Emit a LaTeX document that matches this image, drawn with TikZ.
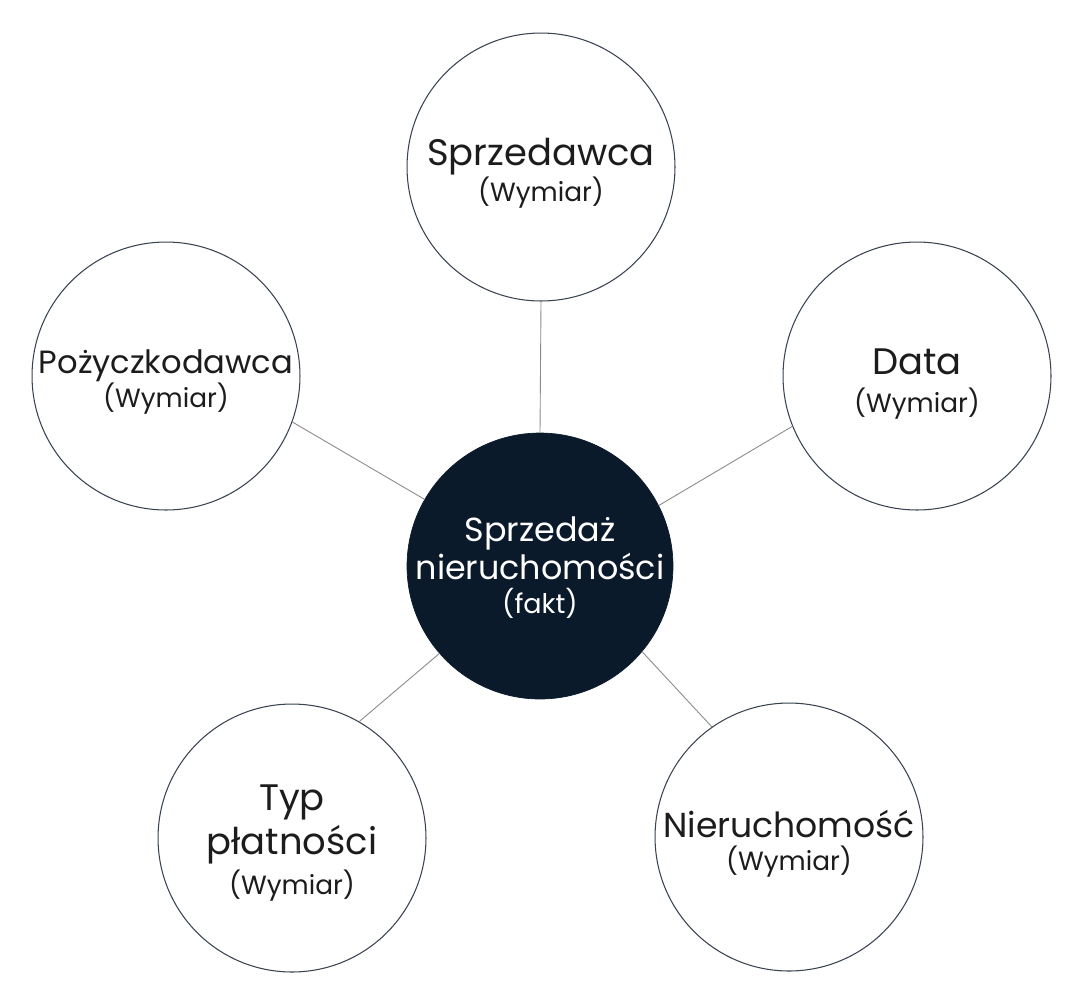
\documentclass[tikz,border=0pt]{standalone}
\usepackage{fontspec}
\setmainfont{Poppins}
\definecolor{navy}{HTML}{0B1A2B}
\definecolor{ink}{HTML}{1C1C1C}
\definecolor{rim}{HTML}{3A4350}
\definecolor{spoke}{HTML}{8A8A8A}
\newcommand\dimsub{\fontsize{15}{18}\selectfont}
\tikzset{
  dim/.style={circle, draw=rim, line width=0.6pt, fill=white, minimum size=5.36cm, inner sep=0pt},
  fact/.style={circle, draw=navy, fill=navy, minimum size=5.32cm, inner sep=0pt},
  dimtext/.style={align=center, text=ink, inner sep=0pt, font=\fontsize{21}{25}\selectfont},
  facttext/.style={align=center, text=white, inner sep=0pt, font=\fontsize{19}{22.5}\selectfont},
  link/.style={draw=spoke, line width=0.5pt}
}
\begin{document}
\begin{tikzpicture}[x=0.02cm, y=-0.02cm]
            \useasboundingbox (0,0) rectangle (1084,992);
            % circles
            \node[fact] (sale) at (540,566) {};
            \node[dim] (seller) at (541,167) {};
            \node[dim] (lender) at (166,376) {};
            \node[dim] (date) at (917,376) {};
            \node[dim] (payment) at (292,838) {};
            \node[dim] (property) at (789,837) {};
            % spokes
            \draw[link] (sale.90) -- (seller.270);
            \draw[link] (sale.150) -- (lender.-20);
            \draw[link] (sale.27) -- (date.202);
            \draw[link] (sale.221) -- (payment.60);
            \draw[link] (sale.-40) -- (property.125);
            % texts
            \node[facttext] (sale-txt) at (540,568) {Sprzedaż\\[-1pt]nieruchomości\\[-3pt]{\fontsize{15.4}{18}\selectfont(fakt)}};
            \node[dimtext] (seller-txt) at (541,173) {Sprzedawca\\[-4.5pt]{\dimsub(Wymiar)}};
            \node[dimtext, font=\fontsize{18.3}{25}\selectfont] (lender-txt) at (166,382) {Pożyczkodawca\\[-6pt]{\dimsub(Wymiar)}};
            \node[dimtext] (date-txt) at (917,384) {Data\\[-3.5pt]{\dimsub(Wymiar)}};
            \node[dimtext] (payment-txt) at (292,843) {Typ\\płatności\\[-2pt]{\dimsub(Wymiar)}};
            \node[dimtext, font=\fontsize{19.7}{25}\selectfont] (property-txt) at (789,844) {Nieruchomość\\[-6pt]{\dimsub(Wymiar)}};
\end{tikzpicture}
\end{document}
